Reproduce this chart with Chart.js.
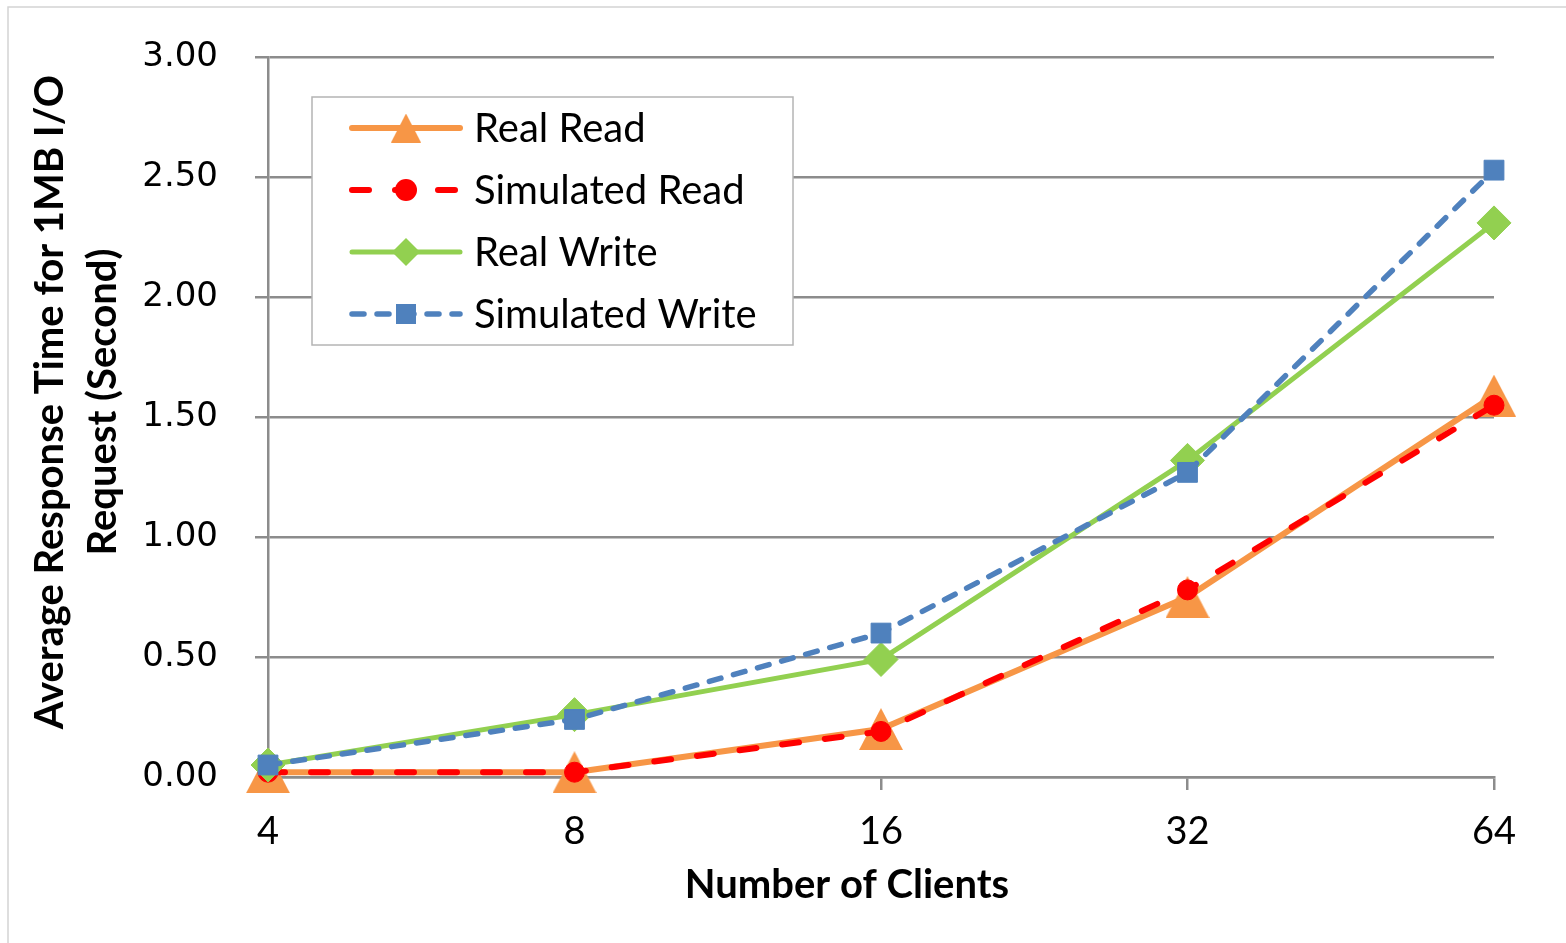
<!DOCTYPE html>
<html>
<head>
<meta charset="utf-8">
<title>Average Response Time vs Number of Clients</title>
<script src="https://cdn.jsdelivr.net/npm/chart.js@4/dist/chart.umd.min.js"></script>
<style>
  html, body { margin: 0; padding: 0; background: #ffffff; }
  #wrap { width: 1566px; height: 943px; position: relative; }
</style>
</head>
<body>
<div id="wrap"><canvas id="c" width="1566" height="943"></canvas></div>
<script>
// ---- data ----
const clients = ['4', '8', '16', '32', '64'];
const realRead = [0.02, 0.02, 0.20, 0.75, 1.59];
const simulatedRead = [0.02, 0.02, 0.19, 0.78, 1.55];
const realWrite = [0.05, 0.26, 0.49, 1.32, 2.31];
const simulatedWrite = [0.05, 0.24, 0.60, 1.27, 2.53];
const yTicks = [0, 0.5, 1.0, 1.5, 2.0, 2.5, 3.0];

const seriesNames = ['Real Read', 'Simulated Read', 'Real Write', 'Simulated Write'];
const xTitle = 'Number of Clients';
const yTitleLines = ['Average Response Time for 1MB I/O', 'Request (Second)'];

// ---- styles ----
const ORANGE = '#F79646', RED = '#FF0000', GREEN = '#92D050', BLUE = '#4F81BD';
const GRID = '#8c8c8c';
const LABEL_FONT = 'Lato, "Open Sans", sans-serif';

// triangle marker centred on its bounding box
function triangleCanvas(w, h, color) {
  const c = document.createElement('canvas');
  c.width = w; c.height = h;
  const g = c.getContext('2d');
  g.fillStyle = color;
  g.beginPath();
  g.moveTo(w / 2, 0);
  g.lineTo(w, h);
  g.lineTo(0, h);
  g.closePath();
  g.fill();
  return c;
}
const triPlot = triangleCanvas(44, 42, ORANGE);
const triLegend = triangleCanvas(30, 29, ORANGE);

const datasets = [
  { label: seriesNames[0], data: realRead, borderColor: ORANGE, backgroundColor: ORANGE,
    borderWidth: 6, pointStyle: triPlot, pointRadius: 22, order: 4,
    legendMarker: { type: 'tri' } },
  { label: seriesNames[1], data: simulatedRead, borderColor: RED, backgroundColor: RED,
    borderWidth: 6, borderDash: [17, 26], borderCapStyle: 'round', pointStyle: 'circle',
    pointRadius: 10, pointBorderWidth: 1, order: 3,
    legendMarker: { type: 'circle', r: 11 } },
  { label: seriesNames[2], data: realWrite, borderColor: GREEN, backgroundColor: GREEN,
    borderWidth: 5, pointStyle: 'rectRot', pointRadius: 17, pointBorderWidth: 1, order: 2,
    legendMarker: { type: 'diamond', r: 14 } },
  { label: seriesNames[3], data: simulatedWrite, borderColor: BLUE, backgroundColor: BLUE,
    borderWidth: 5.5, borderDash: [12, 13], borderCapStyle: 'round', pointStyle: 'rect',
    pointRadius: 14, pointBorderWidth: 1, order: 1,
    legendMarker: { type: 'square', r: 10 } }
];
datasets.forEach(d => {
  d.pointBackgroundColor = d.backgroundColor;
  d.pointBorderColor = d.borderColor;
  d.fill = false;
  d.tension = 0;
  d.clip = false;
});

// light frame on the top and left edges
const framePlugin = {
  id: 'frame',
  beforeDraw(chart) {
    const ctx = chart.ctx;
    ctx.save();
    ctx.fillStyle = '#ffffff';
    ctx.fillRect(0, 0, chart.width, chart.height);
    ctx.strokeStyle = '#d4d4d4';
    ctx.lineWidth = 1.5;
    ctx.beginPath();
    ctx.moveTo(8, chart.height);
    ctx.lineTo(8, 7);
    ctx.lineTo(chart.width, 7);
    ctx.stroke();
    ctx.restore();
  }
};

// axis titles
const titlesPlugin = {
  id: 'titles',
  afterDraw(chart) {
    const ctx = chart.ctx;
    ctx.save();
    ctx.fillStyle = '#000000';
    ctx.font = 'bold 40px ' + LABEL_FONT;
    ctx.textAlign = 'center';
    ctx.textBaseline = 'middle';
    ctx.fillText(xTitle, 847, 885);
    ctx.translate(0, 402);
    ctx.rotate(-Math.PI / 2);
    ctx.fillText(yTitleLines[0], 0, 50);
    ctx.fillText(yTitleLines[1], 0, 103);
    ctx.restore();
  }
};

// boxed legend inside the plot
const legendPlugin = {
  id: 'boxLegend',
  afterDraw(chart) {
    const ctx = chart.ctx;
    const box = { x: 312, y: 97, w: 481, h: 248 };
    ctx.save();
    ctx.fillStyle = '#ffffff';
    ctx.fillRect(box.x, box.y, box.w, box.h);
    ctx.strokeStyle = '#b4b4b4';
    ctx.lineWidth = 1.5;
    ctx.strokeRect(box.x, box.y, box.w, box.h);
    const rows = [128, 190, 252, 314];
    chart.data.datasets.forEach((d, i) => {
      const y = rows[i];
      ctx.save();
      ctx.strokeStyle = d.borderColor;
      ctx.lineWidth = d.borderWidth;
      ctx.lineCap = 'round';
      ctx.setLineDash(d.borderDash || []);
      ctx.beginPath();
      ctx.moveTo(352, y);
      ctx.lineTo(460, y);
      ctx.stroke();
      ctx.restore();
      const cx = 406;
      ctx.fillStyle = d.backgroundColor;
      const m = d.legendMarker;
      ctx.beginPath();
      if (m.type === 'tri') {
        ctx.drawImage(triLegend, cx - triLegend.width / 2, y - triLegend.height / 2);
      } else if (m.type === 'circle') {
        ctx.arc(cx, y, m.r, 0, Math.PI * 2);
        ctx.fill();
      } else if (m.type === 'diamond') {
        ctx.moveTo(cx, y - m.r); ctx.lineTo(cx + m.r, y);
        ctx.lineTo(cx, y + m.r); ctx.lineTo(cx - m.r, y);
        ctx.closePath(); ctx.fill();
      } else if (m.type === 'square') {
        ctx.fillRect(cx - m.r, y - m.r, 2 * m.r, 2 * m.r);
      }
      ctx.fillStyle = '#000000';
      ctx.font = '40px ' + LABEL_FONT;
      ctx.textAlign = 'left';
      ctx.textBaseline = 'middle';
      ctx.fillText(d.label, 474, y + 1);
    });
    ctx.restore();
  }
};

new Chart(document.getElementById('c'), {
  type: 'line',
  data: { labels: clients, datasets },
  options: {
    responsive: false,
    animation: false,
    events: [],
    layout: { padding: { top: 55, right: 72, left: 0, bottom: 0 } },
    plugins: { legend: { display: false }, tooltip: { enabled: false } },
    scales: {
      x: {
        type: 'category',
        offset: false,
        afterFit(scale) { scale.height = 166; },
        grid: { drawOnChartArea: false, drawTicks: true, tickLength: 13, color: GRID, lineWidth: 2.5 },
        border: { display: true, color: GRID, width: 2.5 },
        ticks: { color: '#000000', font: { family: LABEL_FONT, size: 38 }, padding: 19, maxRotation: 0 }
      },
      y: {
        min: 0, max: 3,
        afterFit(scale) { scale.width = 268; },
        afterBuildTicks(scale) { scale.ticks = yTicks.map(v => ({ value: v })); },
        grid: { drawOnChartArea: true, drawTicks: true, tickLength: 13, color: GRID, lineWidth: 2.5 },
        border: { display: true, color: GRID, width: 2.5 },
        ticks: {
          color: '#000000',
          font: { family: '"DejaVu Sans", Verdana, sans-serif', size: 34 },
          padding: 37,
          callback: v => Number(v).toFixed(2)
        }
      }
    }
  },
  plugins: [framePlugin, titlesPlugin, legendPlugin]
});
</script>
</body>
</html>
